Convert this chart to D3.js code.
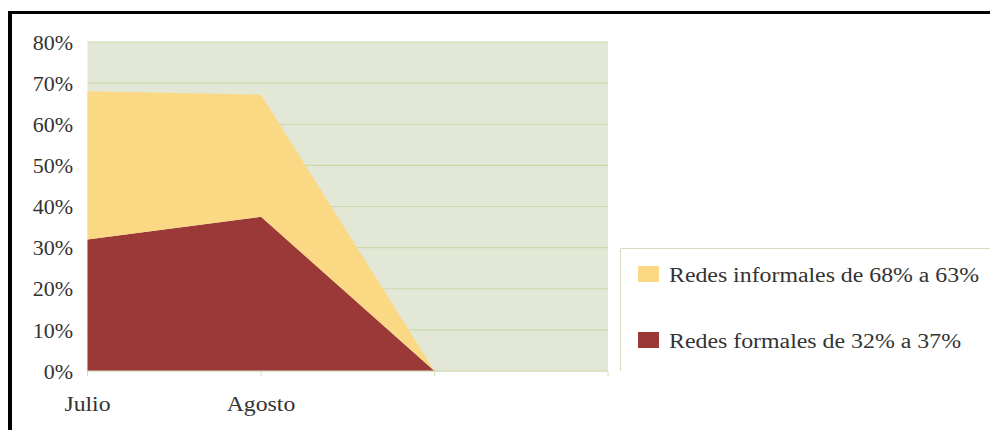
<!DOCTYPE html>
<html><head><meta charset="utf-8">
<script src="https://cdn.jsdelivr.net/npm/d3@7"></script>
<style>body{margin:0;background:#fff}svg{display:block}</style>
</head><body>
<svg id="c" width="990" height="430"></svg>
<script>
const categories = ["Julio", "Agosto", "", ""];
const formales = [0.32, 0.375, 0, null];
const informales = [0.36, 0.297, 0, null];
const seriesNames = ["Redes formales de 32% a 37%", "Redes informales de 68% a 63%"];
const yTicks = [0, 0.1, 0.2, 0.3, 0.4, 0.5, 0.6, 0.7, 0.8];

const svg = d3.select("#c");
const x = d3.scalePoint().domain(d3.range(categories.length)).range([87.5, 608]);
const y = d3.scaleLinear().domain([0, 0.8]).range([371, 42]);
const font = "Liberation Serif";

// frame
svg.append("line").attr("x1", 10).attr("x2", 10).attr("y1", 11).attr("y2", 430).attr("stroke", "#000").attr("stroke-width", 4);
svg.append("line").attr("x1", 8).attr("x2", 990).attr("y1", 12.5).attr("y2", 12.5).attr("stroke", "#000").attr("stroke-width", 3);

// plot background
svg.append("rect").attr("x", x(0)).attr("y", y(0.8)).attr("width", x(3) - x(0)).attr("height", y(0) - y(0.8)).attr("fill", "#e2e8d5");

// gridlines
svg.append("g").selectAll("line").data(yTicks).join("line")
  .attr("x1", x(0)).attr("x2", x(3)).attr("y1", d => y(d)).attr("y2", d => y(d))
  .attr("stroke", "#cbd9a8").attr("stroke-width", 1.2);

// stacked areas
const rows = categories.map((c, i) => ({i, f: formales[i], n: informales[i]}));
const stack = d3.stack().keys(["f", "n"]).value((d, k) => d[k] == null ? 0 : d[k]);
const stacked = stack(rows);
const colors = {f: "#9b3838", n: "#fbd884"};
const area = d3.area().defined(d => d.data.f != null)
  .x(d => x(d.data.i)).y0(d => y(d[0])).y1(d => y(d[1]));
svg.append("g").selectAll("path").data(stacked).join("path")
  .attr("d", area).attr("fill", d => colors[d.key]);

// x axis line + ticks
svg.append("line").attr("x1", x(0)).attr("x2", x(3)).attr("y1", y(0)).attr("y2", y(0)).attr("stroke", "#d8dcc0").attr("stroke-width", 1);
svg.append("g").selectAll("line").data(d3.range(categories.length)).join("line")
  .attr("x1", d => x(d)).attr("x2", d => x(d)).attr("y1", y(0)).attr("y2", y(0) + 5)
  .attr("stroke", "#d8dcc0");

// y labels
svg.append("g").selectAll("text").data(yTicks).join("text")
  .attr("x", 73).attr("y", d => y(d)).attr("dy", "0.35em").attr("text-anchor", "end")
  .style("font-family", font).style("font-size", "22px").attr("fill", "#333")
  .text(d => d3.format(".0%")(d));

// x labels
svg.append("g").selectAll("text").data(categories).join("text")
  .attr("transform", (d, i) => `translate(${x(i)},411) scale(1.08,1)`).attr("text-anchor", "middle")
  .style("font-family", font).style("font-size", "22px").attr("fill", "#333")
  .text(d => d);

// legend
const lg = svg.append("g");
lg.append("path").attr("d", "M990,248.5H620.5V371").attr("fill", "none").attr("stroke", "#d6dcc4").attr("stroke-width", 1);
const items = [{name: seriesNames[1], key: "n", y: 266, w: 310}, {name: seriesNames[0], key: "f", y: 332, w: 292}];
const it = lg.selectAll("g.it").data(items).join("g").attr("class", "it");
it.append("rect").attr("x", 638).attr("y", d => d.y).attr("width", 21).attr("height", 16).attr("fill", d => colors[d.key]);
it.append("text").attr("x", 669).attr("y", d => d.y + 16)
  .attr("textLength", d => d.w).attr("lengthAdjust", "spacingAndGlyphs")
  .style("font-family", font).style("font-size", "20.5px").attr("fill", "#333")
  .text(d => d.name);
</script>
</body></html>
